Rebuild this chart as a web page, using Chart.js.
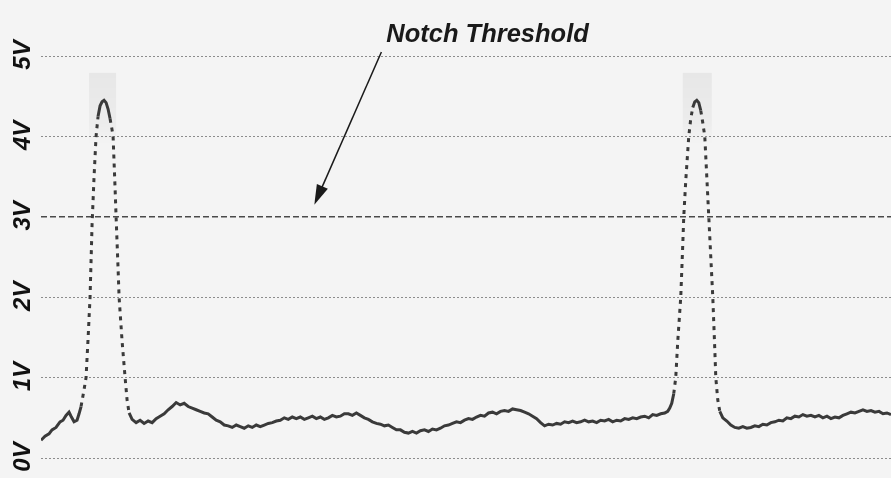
<!DOCTYPE html>
<html lang="en">
<head>
    <meta charset="UTF-8">
    <title>Notch Threshold</title>
    <style>
        * { margin: 0; padding: 0; box-sizing: border-box; }
        body { background-color: #f4f4f4; }
        .chart-box { position: relative; width: 891px; height: 478px; }
    </style>
</head>
<body>
    <div class="chart-box"><canvas id="scopeChart"></canvas></div>

    <script src="https://cdn.jsdelivr.net/npm/chart.js"></script>
    <script>
        // Scope trace (time in arbitrary units, volts)
        const timeUnits = [
            0, 4, 8, 11, 15, 19, 22, 25, 28, 30,
            33, 36, 38, 40, 43, 45, 47, 49, 51, 53,
            55, 57, 59, 61, 63, 65, 67, 69, 71, 72,
            74, 75, 77, 78, 81, 84, 86, 88, 91, 95,
            99, 103, 107, 111, 115, 119, 123, 127, 131, 135,
            139, 143, 147, 151, 155, 159, 163, 167, 171, 175,
            179, 183, 187, 191, 195, 199, 203, 207, 211, 215,
            219, 223, 227, 231, 235, 239, 243, 247, 251, 255,
            259, 263, 267, 271, 275, 279, 283, 287, 291, 295,
            299, 303, 307, 311, 315, 319, 323, 327, 331, 335,
            339, 343, 347, 351, 355, 359, 363, 367, 371, 375,
            379, 383, 387, 391, 395, 399, 403, 407, 411, 415,
            419, 423, 427, 431, 435, 439, 443, 447, 451, 455,
            459, 463, 467, 471, 475, 479, 483, 487, 491, 495,
            499, 503, 507, 511, 515, 519, 523, 527, 531, 535,
            539, 543, 547, 551, 555, 559, 563, 567, 571, 575,
            579, 583, 587, 591, 595, 599, 603, 607, 611, 615,
            619, 623,
            626, 628, 630, 632, 634, 636, 639, 641, 642, 644,
            647, 649, 651, 653, 655, 657, 659, 661, 663, 665,
            667, 669, 671, 673, 674, 676, 678, 681, 685, 689,
            693, 697, 701, 705, 709, 713, 717, 721, 725, 729,
            733, 737, 741, 745, 749, 753, 757, 761, 765, 769,
            773, 777, 781, 785, 789, 793, 797, 801, 805, 809,
            813, 817, 821, 825, 829, 833, 837, 841, 845, 849
        ];
        const volts = [
            0.22, 0.27, 0.30, 0.35, 0.38, 0.45, 0.47, 0.53, 0.57, 0.52,
            0.45, 0.47, 0.55, 0.64, 0.85, 1.00, 1.48, 2.00, 2.90, 3.50,
            4.00, 4.25, 4.38, 4.43, 4.45, 4.42, 4.34, 4.22, 4.08, 4.00,
            3.35, 3.00, 2.35, 2.00, 1.45, 1.00, 0.72, 0.56, 0.48, 0.44,
            0.47, 0.43, 0.46, 0.44, 0.49, 0.52, 0.55, 0.60, 0.64, 0.69,
            0.66, 0.68, 0.64, 0.62, 0.60, 0.58, 0.56, 0.55, 0.51, 0.47,
            0.45, 0.41, 0.40, 0.38, 0.41, 0.39, 0.37, 0.40, 0.38, 0.41,
            0.39, 0.41, 0.43, 0.44, 0.46, 0.47, 0.50, 0.48, 0.51, 0.49,
            0.51, 0.48, 0.50, 0.52, 0.49, 0.51, 0.48, 0.50, 0.53, 0.51,
            0.52, 0.55, 0.55, 0.53, 0.56, 0.53, 0.50, 0.48, 0.45, 0.43,
            0.42, 0.40, 0.41, 0.38, 0.35, 0.35, 0.32, 0.31, 0.33, 0.31,
            0.34, 0.35, 0.33, 0.36, 0.35, 0.37, 0.40, 0.41, 0.43, 0.45,
            0.44, 0.47, 0.49, 0.48, 0.51, 0.53, 0.52, 0.56, 0.57, 0.55,
            0.58, 0.59, 0.58, 0.61, 0.60, 0.59, 0.57, 0.55, 0.52, 0.49,
            0.44, 0.40, 0.42, 0.41, 0.43, 0.42, 0.45, 0.44, 0.46, 0.44,
            0.45, 0.47, 0.45, 0.46, 0.44, 0.47, 0.46, 0.48, 0.45, 0.47,
            0.46, 0.49, 0.48, 0.50, 0.49, 0.51, 0.52, 0.50, 0.54, 0.53,
            0.55, 0.56,
            0.58, 0.62, 0.68, 0.80, 1.00, 1.45, 2.00, 2.65, 3.00, 3.45,
            4.00, 4.22, 4.36, 4.43, 4.45, 4.42, 4.32, 4.17, 4.00, 3.50,
            3.00, 2.50, 2.00, 1.35, 1.00, 0.72, 0.58, 0.50, 0.46, 0.41,
            0.38, 0.37, 0.39, 0.37, 0.38, 0.40, 0.39, 0.42, 0.41, 0.44,
            0.45, 0.47, 0.46, 0.50, 0.49, 0.52, 0.51, 0.54, 0.52, 0.53,
            0.51, 0.53, 0.50, 0.52, 0.49, 0.51, 0.50, 0.53, 0.55, 0.57,
            0.56, 0.58, 0.60, 0.58, 0.59, 0.57, 0.58, 0.55, 0.56, 0.54
        ];

        const timeRange = [0, 849];
        const voltRange = [0, 5];
        const thresholdVolts = 3.0;

        // Annotation, in data units
        const noteText = "Notch Threshold";
        const notePos = { x: 446, y: 5.17 };
        const arrowFrom = { x: 340, y: 5.05 };
        const arrowTo = { x: 273, y: 3.15 };

        // faint grey blocks on the scan above the two peaks
        const shadeBands = [[48, 75], [641, 670]];
        const shadeVolts = [3.9, 4.79];

        const trace = timeUnits.map((t, i) => ({ x: t, y: volts[i] }));
        const thresholdLine = timeRange.map(t => ({ x: t, y: thresholdVolts }));

        // steep parts of the trace show up as broken dashes
        const steepDash = ctx => {
            const dx = Math.max(ctx.p1.parsed.x - ctx.p0.parsed.x, 1);
            const dy = Math.abs(ctx.p1.parsed.y - ctx.p0.parsed.y);
            return dy / dx > 0.065 ? [4, 5] : undefined;
        };

        const shadePlugin = {
            id: "shadeBands",
            beforeDatasetsDraw(chart) {
                const { ctx, scales: { x, y } } = chart;
                const top = y.getPixelForValue(shadeVolts[1]);
                const bottom = y.getPixelForValue(shadeVolts[0]);
                ctx.save();
                shadeBands.forEach(([a, b]) => {
                    const grad = ctx.createLinearGradient(0, top, 0, bottom);
                    grad.addColorStop(0, "rgba(0,0,0,0.05)");
                    grad.addColorStop(0.7, "rgba(0,0,0,0.03)");
                    grad.addColorStop(1, "rgba(0,0,0,0)");
                    ctx.fillStyle = grad;
                    const x0 = x.getPixelForValue(a);
                    ctx.fillRect(x0, top, x.getPixelForValue(b) - x0, bottom - top);
                });
                ctx.restore();
            }
        };

        // rotated volt labels placed on the library's own tick positions
        const voltLabels = {
            id: "voltLabels",
            afterDraw(chart) {
                const { ctx, scales: { y } } = chart;
                ctx.save();
                ctx.font = "italic bold 24px 'Liberation Sans', Arial, sans-serif";
                ctx.fillStyle = "#111";
                ctx.textAlign = "center";
                ctx.textBaseline = "middle";
                y.ticks.forEach(t => {
                    ctx.save();
                    ctx.translate(23, y.getPixelForValue(t.value) - 1);
                    ctx.rotate(-Math.PI / 2);
                    ctx.fillText(t.label, 0, 0);
                    ctx.restore();
                });
                ctx.restore();
            }
        };

        const notePlugin = {
            id: "noteArrow",
            afterDatasetsDraw(chart) {
                const { ctx, scales: { x, y } } = chart;
                const x1 = x.getPixelForValue(arrowFrom.x), y1 = y.getPixelForValue(arrowFrom.y);
                const x2 = x.getPixelForValue(arrowTo.x), y2 = y.getPixelForValue(arrowTo.y);
                const ang = Math.atan2(y2 - y1, x2 - x1);
                const headLen = 20, headHalf = 6;

                ctx.save();
                ctx.strokeStyle = "#1a1a1a";
                ctx.fillStyle = "#1a1a1a";
                ctx.lineWidth = 1.5;
                ctx.beginPath();
                ctx.moveTo(x1, y1);
                ctx.lineTo(x2 - Math.cos(ang) * headLen * 0.8, y2 - Math.sin(ang) * headLen * 0.8);
                ctx.stroke();

                ctx.beginPath();
                ctx.moveTo(x2, y2);
                const bx = x2 - Math.cos(ang) * headLen, by = y2 - Math.sin(ang) * headLen;
                ctx.lineTo(bx + Math.sin(ang) * headHalf, by - Math.cos(ang) * headHalf);
                ctx.lineTo(bx - Math.sin(ang) * headHalf, by + Math.cos(ang) * headHalf);
                ctx.closePath();
                ctx.fill();

                ctx.font = "italic bold 25.5px 'Liberation Sans', Arial, sans-serif";
                ctx.textAlign = "center";
                ctx.textBaseline = "alphabetic";
                ctx.fillText(noteText, x.getPixelForValue(notePos.x), y.getPixelForValue(notePos.y));
                ctx.restore();
            }
        };

        new Chart(document.getElementById("scopeChart"), {
            type: "line",
            data: {
                datasets: [
                    {
                        data: trace,
                        borderColor: "#3a3a3a",
                        borderWidth: 3,
                        pointRadius: 0,
                        tension: 0,
                        segment: { borderDash: steepDash }
                    },
                    {
                        data: thresholdLine,
                        borderColor: "#4a4a4a",
                        borderWidth: 1.5,
                        borderDash: [6, 3],
                        pointRadius: 0
                    }
                ]
            },
            options: {
                responsive: true,
                maintainAspectRatio: false,
                animation: false,
                layout: { padding: { top: 56, bottom: 20, left: 0, right: 0 } },
                plugins: {
                    legend: { display: false },
                    tooltip: { enabled: false }
                },
                scales: {
                    x: {
                        type: "linear",
                        min: timeRange[0],
                        max: timeRange[1],
                        display: false
                    },
                    y: {
                        min: voltRange[0],
                        max: voltRange[1],
                        afterFit: scale => { scale.width = 41; },
                        ticks: {
                            display: false,
                            stepSize: 1,
                            callback: v => v + "V"
                        },
                        grid: {
                            drawTicks: false,
                            color: c => c.tick && c.tick.value === thresholdVolts ? "rgba(0,0,0,0)" : "#8c8c8c",
                            lineWidth: 1
                        },
                        border: { display: false, dash: [2, 2] }
                    }
                }
            },
            plugins: [shadePlugin, voltLabels, notePlugin]
        });
    </script>
</body>
</html>
